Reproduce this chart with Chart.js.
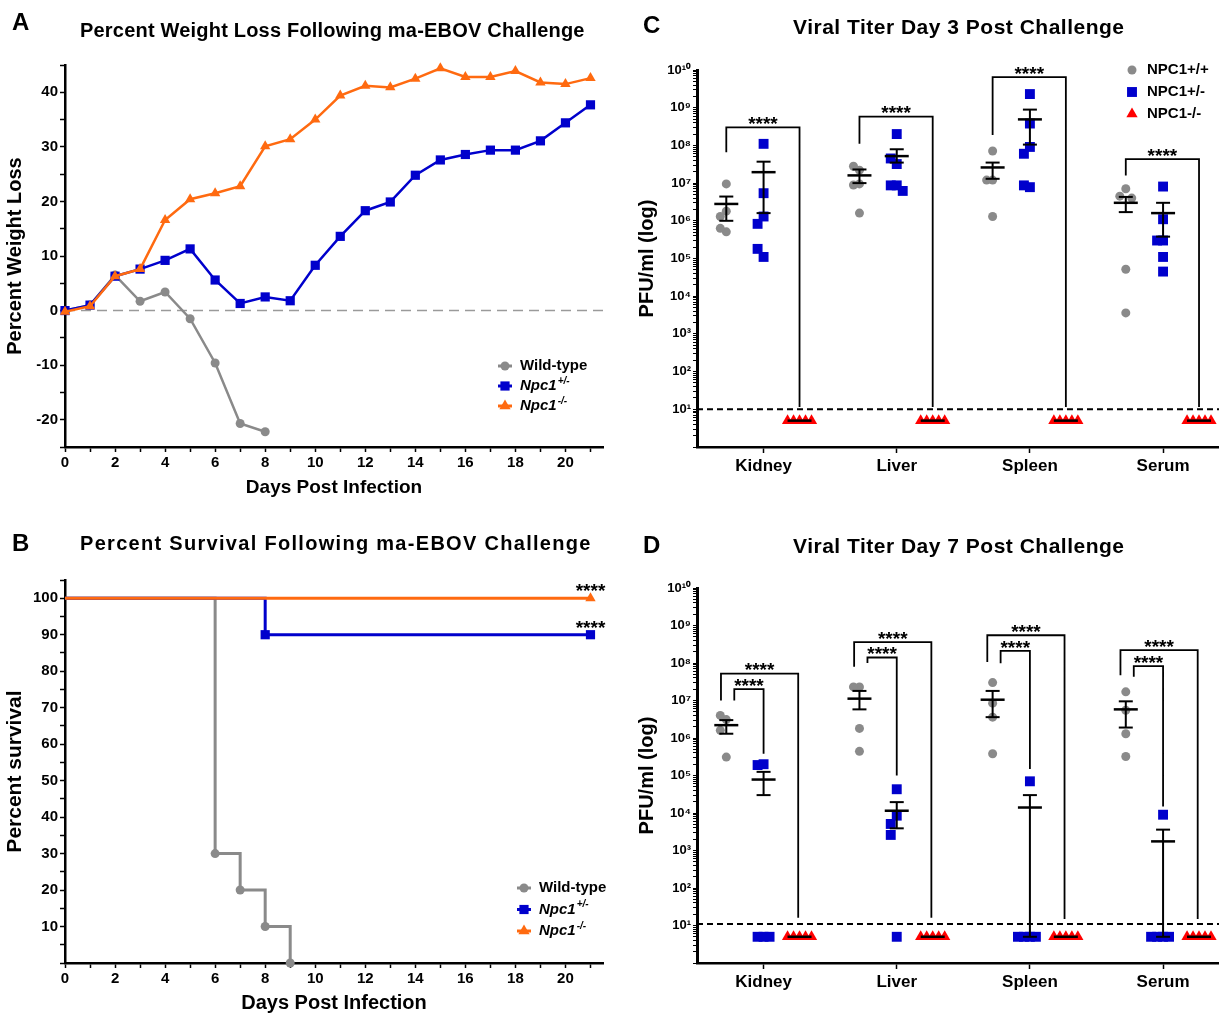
<!DOCTYPE html>
<html>
<head>
<meta charset="utf-8">
<title>ma-EBOV challenge</title>
<script src="https://cdn.jsdelivr.net/npm/chart.js@4.4.1/dist/chart.umd.min.js"></script>
<style>
  body { margin: 0; background: #fff; }
  #fig { position: relative; width: 1219px; height: 1017px; overflow: hidden; font-family: "Liberation Sans", Arial, sans-serif; color: #000; }
  #fig canvas { position: absolute; }
  .lbl { position: absolute; font-weight: bold; white-space: nowrap; line-height: 1; }
</style>
</head>
<body>
<div id="fig">
  <canvas id="chartA" width="610" height="505" style="left:0;top:0"></canvas>
  <canvas id="chartB" width="610" height="507" style="left:0;top:510px"></canvas>
  <canvas id="chartC" width="609" height="505" style="left:610px;top:0"></canvas>
  <canvas id="chartD" width="609" height="507" style="left:610px;top:510px"></canvas>

  <div class="lbl" style="left:12px;top:10px;font-size:24px">A</div>
  <div class="lbl" style="left:80px;top:20px;font-size:20px;letter-spacing:0.2px">Percent Weight Loss Following ma-EBOV Challenge</div>
  <div class="lbl" style="left:12px;top:531px;font-size:24px">B</div>
  <div class="lbl" style="left:80px;top:533px;font-size:20px;letter-spacing:1.3px">Percent Survival Following ma-EBOV Challenge</div>
  <div class="lbl" style="left:643px;top:13px;font-size:24px">C</div>
  <div class="lbl" style="left:793px;top:16px;font-size:21px;letter-spacing:0.5px">Viral Titer Day 3 Post Challenge</div>
  <div class="lbl" style="left:643px;top:533px;font-size:24px">D</div>
  <div class="lbl" style="left:793px;top:535px;font-size:21px;letter-spacing:0.5px">Viral Titer Day 7 Post Challenge</div>
</div>
<script>
// ---- A: percent weight loss ----
const days = [0, 1, 2, 3, 4, 5, 6, 7, 8, 9, 10, 11, 12, 13, 14, 15, 16, 17, 18, 19, 20, 21];
const wtWeight = [0, 1.0, 6.5, 1.7, 3.4, -1.5, -9.6, -20.7, -22.2];
const hetWeight = [0, 1.0, 6.3, 7.6, 9.2, 11.3, 5.6, 1.3, 2.5, 1.8, 8.3, 13.6, 18.3, 19.9, 24.8, 27.6, 28.6, 29.4, 29.4, 31.1, 34.4, 37.7];
const koWeight = [-0.2, 0.8, 6.3, 7.6, 16.6, 20.4, 21.5, 22.8, 30.1, 31.4, 35.0, 39.4, 41.2, 40.9, 42.5, 44.4, 42.8, 42.8, 43.9, 41.8, 41.5, 42.6];

// ---- B: percent survival ----
const wtSurvDays = [0, 6, 7, 8, 9];
const wtSurv = [100, 30, 20, 10, 0];
const hetSurvDays = [0, 8, 21];
const hetSurv = [100, 90, 90];
const koSurvDays = [0, 21];
const koSurv = [100, 100];

// ---- C / D: viral titers (PFU/ml) ----
const organs = ['Kidney', 'Liver', 'Spleen', 'Serum'];

const wt3 = [
  [9.5e6, 1.8e6, 1.3e6, 5.1e5, 6.3e5],
  [2.2e7, 2.8e7, 9.5e6, 8.9e6, 1.6e6],
  [7.1e7, 1.2e7, 1.2e7, 1.3e6],
  [7.1e6, 4.5e6, 4.0e6, 5.2e4, 3.6e3]
];
const het3 = [
  [1.1e8, 5.4e6, 1.3e6, 8.3e5, 1.1e5, 1.8e5],
  [2.0e8, 3.2e7, 4.5e7, 8.7e6, 8.7e6, 6.2e6],
  [2.3e9, 3.8e8, 9.1e7, 6.0e7, 7.8e6, 8.7e6],
  [8.1e6, 1.1e6, 3.0e5, 3.0e5, 1.1e5, 4.5e4]
];
const ko3 = [[5, 5, 5, 5, 5], [5, 5, 5, 5, 5], [5, 5, 5, 5, 5], [5, 5, 5, 5, 5]];
const wt3Mean = [2.8e6, 1.6e7, 2.6e7, 3.0e6];
const wt3Lo = [1.0e6, 1.0e7, 1.3e7, 1.7e6];
const wt3Hi = [4.4e6, 2.3e7, 3.5e7, 4.3e6];
const het3Mean = [1.95e7, 5.2e7, 4.9e8, 1.6e6];
const het3Lo = [1.6e6, 3.5e7, 1.05e8, 3.8e5];
const het3Hi = [3.7e7, 7.9e7, 8.9e8, 3.0e6];
const ko3Mean = [5, 5, 5, 5];
const lod3 = 10;
// significance brackets, day 3 (NPC1+/+ vs NPC1-/-)
const brk3Top = [3.0e8, 5.8e8, 6.5e9, 4.3e7];
const brk3Left = [6.6e7, 1.1e8, 1.9e8, 1.6e7];
const brk3Right = [11.5, 11.5, 11.5, 11.5];

const wt7 = [
  [3.1e6, 4.0e6, 1.6e6, 3.1e5],
  [2.3e7, 2.3e7, 1.8e6, 4.4e5],
  [3.0e7, 8.5e6, 3.6e6, 3.8e5],
  [1.7e7, 5.5e6, 1.3e6, 3.2e5]
];
const het7 = [
  [2.0e5, 1.9e5, 5, 5, 5],
  [4.3e4, 8.5e3, 5.1e3, 2.6e3, 5],
  [7.0e4, 5, 5, 5, 5],
  [9.0e3, 5, 5, 5, 5]
];
const ko7 = [[5, 5, 5, 5, 5], [5, 5, 5, 5, 5], [5, 5, 5, 5, 5], [5, 5, 5, 5, 5]];
const wt7Mean = [2.2e6, 1.12e7, 1.05e7, 5.8e6];
const wt7Lo = [1.3e6, 5.8e6, 3.6e6, 1.9e6];
const wt7Hi = [3.0e6, 1.8e7, 1.8e7, 9.5e6];
const het7Mean = [7.8e4, 1.15e4, 1.4e4, 1.75e3];
const het7Lo = [3.0e4, 3.9e3, 5, 5];
const het7Hi = [1.25e5, 1.95e4, 3.0e4, 3.6e3];
const ko7Mean = [5, 5, 5, 5];
const lod7 = 11;
// day 7: outer bracket NPC1+/+ vs NPC1-/-, inner bracket NPC1+/+ vs NPC1+/-
const outer7Top = [5.2e7, 3.6e8, 5.5e8, 2.2e8];
const outer7Left = [1.0e7, 8.0e7, 1.07e8, 4.7e7];
const outer7Right = [16, 16, 15, 15];
const inner7Top = [2.0e7, 1.4e8, 2.1e8, 8.3e7];
const inner7Left = [1.0e7, 1.0e8, 9.8e7, 4.3e7];
const inner7Right = [3.8e5, 1.0e5, 1.5e5, 1.5e4];

// ---- styling ----
const black = '#000';
const grayC = '#8a8a8a';
const blueC = '#0000cc';
const orangeC = '#ff6a10';
const redC = '#ff0000';
const fontFam = '"Liberation Sans", Arial, sans-serif';
Chart.defaults.font.family = fontFam;
Chart.defaults.color = black;

function range(a, b, s) {
  const out = [];
  for (let v = a; v <= b + 1e-9; v += s) out.push(Math.round(v * 100) / 100);
  return out;
}
function fixedTicks(values) {
  return function (scale) { scale.ticks = values.map(v => ({ value: v })); };
}
function tickGrid(len) {
  return { display: true, drawOnChartArea: false, drawTicks: true, tickLength: len, tickColor: black, tickWidth: 1.5 };
}
function bold(size) { return { size: size, weight: 'bold', family: fontFam }; }

function drawMarker(ctx, style, x, y, r, color) {
  ctx.fillStyle = color;
  ctx.beginPath();
  if (style === 'circle') {
    ctx.arc(x, y, r, 0, Math.PI * 2);
  } else if (style === 'rect') {
    const s = r * Math.SQRT1_2;
    ctx.rect(x - s, y - s, 2 * s, 2 * s);
  } else {
    ctx.moveTo(x, y - r);
    ctx.lineTo(x + r * 0.866, y + r * 0.5);
    ctx.lineTo(x - r * 0.866, y + r * 0.5);
    ctx.closePath();
  }
  ctx.fill();
}

// legend drawn at a fixed spot inside the panel
const sideLegend = {
  id: 'sideLegend',
  afterDraw(chart, args, opts) {
    if (!opts.items) return;
    const ctx = chart.ctx;
    ctx.save();
    opts.items.forEach((it, i) => {
      const y = opts.y + i * opts.gap;
      if (opts.lineLen) {
        ctx.strokeStyle = it.color;
        ctx.lineWidth = 3;
        ctx.beginPath();
        ctx.moveTo(opts.x - opts.lineLen / 2, y);
        ctx.lineTo(opts.x + opts.lineLen / 2, y);
        ctx.stroke();
      }
      drawMarker(ctx, it.style, opts.x, y, it.radius, it.color);
      const face = (it.italic ? 'italic ' : '') + 'bold ';
      ctx.fillStyle = black;
      ctx.textAlign = 'left';
      ctx.textBaseline = 'middle';
      ctx.font = face + opts.size + 'px ' + fontFam;
      ctx.fillText(it.text, opts.textX, y);
      if (it.sup) {
        const w = ctx.measureText(it.text).width;
        ctx.font = face + Math.round(opts.size * 0.65) + 'px ' + fontFam;
        ctx.fillText(it.sup, opts.textX + w + 1, y - opts.size * 0.35);
      }
    });
    ctx.restore();
  }
};

// "****" significance marks, placed in data units
const stars = {
  id: 'stars',
  afterDatasetsDraw(chart, args, opts) {
    if (!opts.marks) return;
    const ctx = chart.ctx;
    ctx.save();
    ctx.font = 'bold ' + opts.size + 'px ' + fontFam;
    ctx.textAlign = 'center';
    ctx.textBaseline = 'alphabetic';
    ctx.fillStyle = black;
    opts.marks.forEach(m => {
      const px = chart.scales.x.getPixelForValue(m.x);
      const py = chart.scales.y.getPixelForValue(m.y) - opts.lift;
      ctx.fillText('****', px, py + opts.size * 0.57);
    });
    ctx.restore();
  }
};

const weightLegend = [
  { text: 'Wild-type', style: 'circle', radius: 4.5, color: grayC },
  { text: 'Npc1', sup: '+/-', italic: true, style: 'rect', radius: 6.5, color: blueC },
  { text: 'Npc1', sup: '-/-', italic: true, style: 'triangle', radius: 6.5, color: orangeC }
];

// ================= A =================
function pairs(xs, ys) { return ys.map((y, i) => ({ x: xs[i], y: y })); }

new Chart(document.getElementById('chartA'), {
  type: 'line',
  plugins: [sideLegend],
  data: {
    datasets: [
      { data: [{ x: 0, y: 0 }, { x: 21.5, y: 0 }], borderColor: '#9a9a9a', borderWidth: 1.5, borderDash: [10, 6], pointRadius: 0, order: 9 },
      { label: 'Wild-type', data: pairs(days, wtWeight), borderColor: grayC, borderWidth: 2.5, pointStyle: 'circle', pointRadius: 4.5, pointBackgroundColor: grayC, pointBorderColor: grayC, pointBorderWidth: 0, order: 3, clip: false },
      { label: 'Npc1+/-', data: pairs(days, hetWeight), borderColor: blueC, borderWidth: 2.5, pointStyle: 'rect', pointRadius: 6.5, pointBackgroundColor: blueC, pointBorderColor: blueC, pointBorderWidth: 0, order: 2, clip: false },
      { label: 'Npc1-/-', data: pairs(days, koWeight), borderColor: orangeC, borderWidth: 2.5, pointStyle: 'triangle', pointRadius: 6, pointBackgroundColor: orangeC, pointBorderColor: orangeC, pointBorderWidth: 0, order: 1, clip: false }
    ]
  },
  options: {
    responsive: false, animation: false, events: [],
    layout: { autoPadding: false, padding: { left: 3, right: 7, top: 65, bottom: 0 } },
    plugins: {
      legend: { display: false }, tooltip: { enabled: false },
      sideLegend: { items: weightLegend, x: 505, y: 366, gap: 20, textX: 520, size: 15, lineLen: 14 }
    },
    scales: {
      x: {
        type: 'linear', min: 0, max: 21.5,
        afterBuildTicks: fixedTicks(range(0, 21, 1)),
        afterFit: s => { s.height = 58; s.paddingLeft = 0; s.paddingRight = 0; },
        ticks: { callback: v => (v % 2 === 0 ? v : ''), font: bold(15), color: black, padding: 2, autoSkip: false, maxRotation: 0 },
        grid: tickGrid(5),
        border: { display: true, color: black, width: 2.5 },
        title: { display: true, text: 'Days Post Infection', font: bold(19), color: black, padding: { top: 0, bottom: 6 } }
      },
      y: {
        type: 'linear', min: -25, max: 45,
        afterBuildTicks: fixedTicks(range(-25, 45, 5)),
        afterFit: s => { s.width = 62; },
        ticks: { callback: v => (v % 10 === 0 ? v : ''), font: bold(15), color: black, padding: 2, autoSkip: false },
        grid: tickGrid(5),
        border: { display: true, color: black, width: 2.5 },
        title: { display: true, text: 'Percent Weight Loss', font: bold(20), color: black, padding: { top: 0, bottom: 2 } }
      }
    }
  }
});

// ================= B =================
function notFirst(r) { return ctx => (ctx.dataIndex === 0 ? 0 : r); }

new Chart(document.getElementById('chartB'), {
  type: 'line',
  plugins: [sideLegend, stars],
  data: {
    datasets: [
      { label: 'Wild-type', data: pairs(wtSurvDays, wtSurv), stepped: true, borderColor: grayC, borderWidth: 3, pointStyle: 'circle', pointRadius: notFirst(4.5), pointBackgroundColor: grayC, pointBorderColor: grayC, pointBorderWidth: 0, order: 3, clip: false },
      { label: 'Npc1+/-', data: pairs(hetSurvDays, hetSurv), stepped: true, borderColor: blueC, borderWidth: 3, pointStyle: 'rect', pointRadius: notFirst(6.5), pointBackgroundColor: blueC, pointBorderColor: blueC, pointBorderWidth: 0, order: 2, clip: false },
      { label: 'Npc1-/-', data: pairs(koSurvDays, koSurv), stepped: true, borderColor: orangeC, borderWidth: 3, pointStyle: 'triangle', pointRadius: notFirst(6), pointBackgroundColor: orangeC, pointBorderColor: orangeC, pointBorderWidth: 0, order: 1, clip: false }
    ]
  },
  options: {
    responsive: false, animation: false, events: [],
    layout: { autoPadding: false, padding: { left: 3, right: 7, top: 70, bottom: 0 } },
    plugins: {
      legend: { display: false }, tooltip: { enabled: false },
      sideLegend: { items: weightLegend, x: 524, y: 378, gap: 21.5, textX: 539, size: 15, lineLen: 14 },
      stars: { marks: [{ x: 21, y: 100 }, { x: 21, y: 90 }], lift: 12, size: 19 }
    },
    scales: {
      x: {
        type: 'linear', min: 0, max: 21.5,
        afterBuildTicks: fixedTicks(range(0, 21, 1)),
        afterFit: s => { s.height = 54; s.paddingLeft = 0; s.paddingRight = 0; },
        ticks: { callback: v => (v % 2 === 0 ? v : ''), font: bold(15), color: black, padding: 2, autoSkip: false, maxRotation: 0 },
        grid: tickGrid(5),
        border: { display: true, color: black, width: 2.5 },
        title: { display: true, text: 'Days Post Infection', font: bold(20), color: black, padding: { top: 0, bottom: 2 } }
      },
      y: {
        type: 'linear', min: 0, max: 105,
        afterBuildTicks: fixedTicks(range(0, 105, 5)),
        afterFit: s => { s.width = 62; },
        ticks: { callback: v => (v > 0 && v % 10 === 0 ? v : ''), font: bold(15), color: black, padding: 2, autoSkip: false },
        grid: tickGrid(5),
        border: { display: true, color: black, width: 2.5 },
        title: { display: true, text: 'Percent survival', font: bold(21), color: black, padding: { top: 0, bottom: 2 } }
      }
    }
  }
});

// ================= C / D =================
const X_MIN = -0.5, X_MAX = 3.42;
const GROUP_OFF = [-0.28, 0, 0.27];
const SUP = { '0': '\u2070', '1': '\u00b9', '2': '\u00b2', '3': '\u00b3', '4': '\u2074', '5': '\u2075', '6': '\u2076', '7': '\u2077', '8': '\u2078', '9': '\u2079' };

function logTicks() {
  const out = [];
  for (let e = 0; e < 10; e++) for (let k = 1; k <= 9; k++) out.push(k * Math.pow(10, e));
  out.push(1e10);
  return out;
}
function powLabel(v) {
  const e = Math.log10(v);
  if (v < 10 || Math.abs(e - Math.round(e)) > 1e-6) return '';
  return '10' + String(Math.round(e)).split('').map(c => SUP[c]).join('');
}

// simple bee-swarm: neighbours at similar height are pushed sideways
function spread(values, center) {
  return values.map((v, i) => {
    let n = 0;
    for (let j = 0; j < i; j++) if (Math.abs(Math.log10(values[j]) - Math.log10(v)) < 0.3) n++;
    const k = Math.ceil(n / 2) * (n % 2 ? -1 : 1);
    return { x: center + k * 0.045, y: v };
  });
}

function bracketPts(list) {
  const pts = [];
  list.forEach(b => {
    pts.push({ x: b.x0, y: b.yl }, { x: b.x0, y: b.top }, { x: b.x1, y: b.top }, { x: b.x1, y: b.yr }, { x: b.x1, y: null });
  });
  return pts;
}

function titerChart(id, d) {
  const sets = [];
  sets.push({ data: [{ x: X_MIN, y: d.lod }, { x: X_MAX, y: d.lod }], showLine: true, borderColor: black, borderWidth: 2, borderDash: [6, 4], pointRadius: 0, order: 9 });
  sets.push({ data: bracketPts(d.brackets), showLine: true, borderColor: black, borderWidth: 1.8, pointRadius: 0, order: 8, clip: false });

  const groups = [
    { vals: d.wt, style: 'circle', r: 4.5, color: grayC },
    { vals: d.het, style: 'rect', r: 7, color: blueC },
    { vals: d.ko, style: 'triangle', r: 6.5, color: redC }
  ];
  groups.forEach((g, gi) => {
    sets.push({
      data: g.vals.flatMap((v, i) => spread(v, i + GROUP_OFF[gi])),
      showLine: false, pointStyle: g.style, pointRadius: g.r,
      pointBackgroundColor: g.color, pointBorderColor: g.color, pointBorderWidth: 0, order: 5, clip: false
    });
  });

  const semLines = [], caps = [], means = [];
  d.stats.forEach((s, gi) => {
    organs.forEach((o, i) => {
      const x = i + GROUP_OFF[gi];
      means.push({ x: x, y: s.mean[i] });
      if (s.lo) {
        semLines.push({ x: x, y: s.lo[i] }, { x: x, y: s.hi[i] }, { x: x, y: null });
        caps.push({ x: x, y: s.lo[i] }, { x: x, y: s.hi[i] });
      }
    });
  });
  sets.push({ data: semLines, showLine: true, borderColor: black, borderWidth: 2, pointRadius: 0, order: 2, clip: false });
  sets.push({ data: caps, showLine: false, pointStyle: 'line', pointRadius: 7, pointBorderColor: black, pointBorderWidth: 2, order: 1, clip: false });
  sets.push({ data: means, showLine: false, pointStyle: 'line', pointRadius: 12, pointBorderColor: black, pointBorderWidth: 2.5, order: 1, clip: false });

  return new Chart(document.getElementById(id), {
    type: 'scatter',
    plugins: [sideLegend, stars],
    data: { datasets: sets },
    options: {
      responsive: false, animation: false, events: [],
      layout: { autoPadding: false, padding: { left: 25, right: 0, top: d.top, bottom: 0 } },
      plugins: {
        legend: { display: false }, tooltip: { enabled: false },
        sideLegend: d.legend || {},
        stars: { marks: d.stars, lift: 8, size: 19 }
      },
      scales: {
        x: {
          type: 'linear', min: X_MIN, max: X_MAX,
          afterBuildTicks: fixedTicks([0, 1, 2, 3]),
          afterFit: s => { s.height = d.xHeight; s.paddingLeft = 0; s.paddingRight = 0; },
          ticks: { callback: v => organs[v], font: bold(17), color: black, padding: 3, autoSkip: false, maxRotation: 0 },
          grid: tickGrid(6),
          border: { display: true, color: black, width: 2.5 }
        },
        y: {
          type: 'logarithmic', min: 1, max: 1e10,
          afterBuildTicks: fixedTicks(logTicks()),
          afterFit: s => { s.width = 62; },
          ticks: { callback: powLabel, font: bold(13), color: black, padding: 2, autoSkip: false },
          grid: { display: true, drawOnChartArea: false, drawTicks: true, tickLength: 4, tickColor: black, tickWidth: 1 },
          border: { display: true, color: black, width: 3 },
          title: { display: true, text: 'PFU/ml (log)', font: bold(20), color: black, padding: { top: 0, bottom: 2 } }
        }
      }
    }
  });
}

function simpleBrackets(top, left, right, x0, x1) {
  return top.map((t, i) => ({ x0: i + x0, x1: i + x1, top: t, yl: left[i], yr: right[i] }));
}
function starMarks(list) { return list.map(b => ({ x: (b.x0 + b.x1) / 2, y: b.top })); }

const brC = simpleBrackets(brk3Top, brk3Left, brk3Right, -0.28, 0.27);
titerChart('chartC', {
  top: 70, xHeight: 58, lod: lod3,
  wt: wt3, het: het3, ko: ko3,
  stats: [
    { mean: wt3Mean, lo: wt3Lo, hi: wt3Hi },
    { mean: het3Mean, lo: het3Lo, hi: het3Hi },
    { mean: ko3Mean }
  ],
  brackets: brC,
  stars: starMarks(brC),
  legend: {
    items: [
      { text: 'NPC1+/+', style: 'circle', radius: 4.5, color: grayC },
      { text: 'NPC1+/-', style: 'rect', radius: 7, color: blueC },
      { text: 'NPC1-/-', style: 'triangle', radius: 6.5, color: redC }
    ],
    x: 522, y: 70, gap: 22, textX: 537, size: 15
  }
});

const brDOuter = simpleBrackets(outer7Top, outer7Left, outer7Right, -0.32, 0.26);
const brDInner = simpleBrackets(inner7Top, inner7Left, inner7Right, -0.22, 0);
titerChart('chartD', {
  top: 78, xHeight: 54, lod: lod7,
  wt: wt7, het: het7, ko: ko7,
  stats: [
    { mean: wt7Mean, lo: wt7Lo, hi: wt7Hi },
    { mean: het7Mean, lo: het7Lo, hi: het7Hi },
    { mean: ko7Mean }
  ],
  brackets: brDOuter.concat(brDInner),
  stars: starMarks(brDOuter).concat(starMarks(brDInner))
});
</script>
</body>
</html>
